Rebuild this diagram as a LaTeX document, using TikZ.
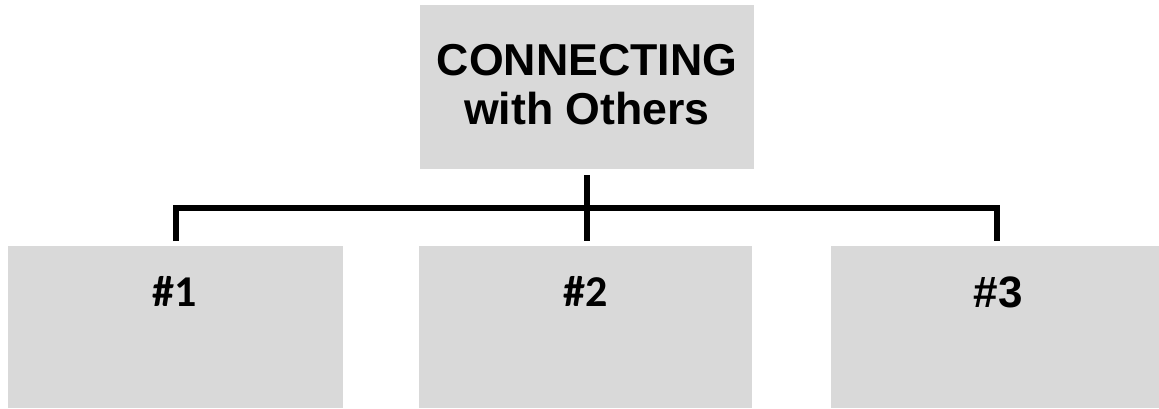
\documentclass[tikz,border=0pt]{standalone}
\usepackage{fontspec}
\setmainfont{Liberation Sans}
\newfontfamily\calfont{Carlito}
\definecolor{boxgrey}{HTML}{D9D9D9}
\tikzset{
  px/.style={x=0.75pt,y=-0.75pt},
  greybox/.style={fill=boxgrey, draw=none, inner sep=0pt, rectangle},
  label text/.style={inner sep=0pt, anchor=base, font=\fontsize{33}{33}\selectfont\bfseries},
  bracket/.style={line width=4.5pt, line join=miter, draw=black}
}
\begin{document}
\begin{tikzpicture}[px]
  \useasboundingbox (0,0) rectangle (1159,408);
  % boxes
  \node[greybox, minimum width=334*0.75pt, minimum height=164*0.75pt] (top) at (587,87) {};
  \node[greybox, minimum width=335*0.75pt, minimum height=162*0.75pt] (b1) at (175.5,327) {};
  \node[greybox, minimum width=333*0.75pt, minimum height=162*0.75pt] (b2) at (585.5,327) {};
  \node[greybox, minimum width=328*0.75pt, minimum height=162*0.75pt] (b3) at (995,327) {};
  % titles
  \node[align=center, inner sep=0pt, font=\fontsize{33.5}{37}\selectfont\bfseries] (title) at (587,84.5) {CONNECTING\\with Others};
  \node[label text, font=\calfont\fontsize{33}{33}\selectfont\bfseries] (t1) at (175,306) {\#1};
  \node[label text, font=\calfont\fontsize{33}{33}\selectfont\bfseries] (t2) at (586,306) {\#2};
  \node[label text] (t3) at (998,307) {\#3};
  % connector ends
  \coordinate (stemtop) at (587,175);
  \coordinate (stembot) at (587,241);
  \coordinate (leftend) at (176,241);
  \coordinate (rightend) at (997,241);
  \coordinate (barleft) at (176,208);
  \coordinate (barright) at (997,208);
  \draw[bracket] (stemtop) -- (stembot);
  \draw[bracket] (leftend) -- (barleft) -- (barright) -- (rightend);
\end{tikzpicture}
\end{document}
